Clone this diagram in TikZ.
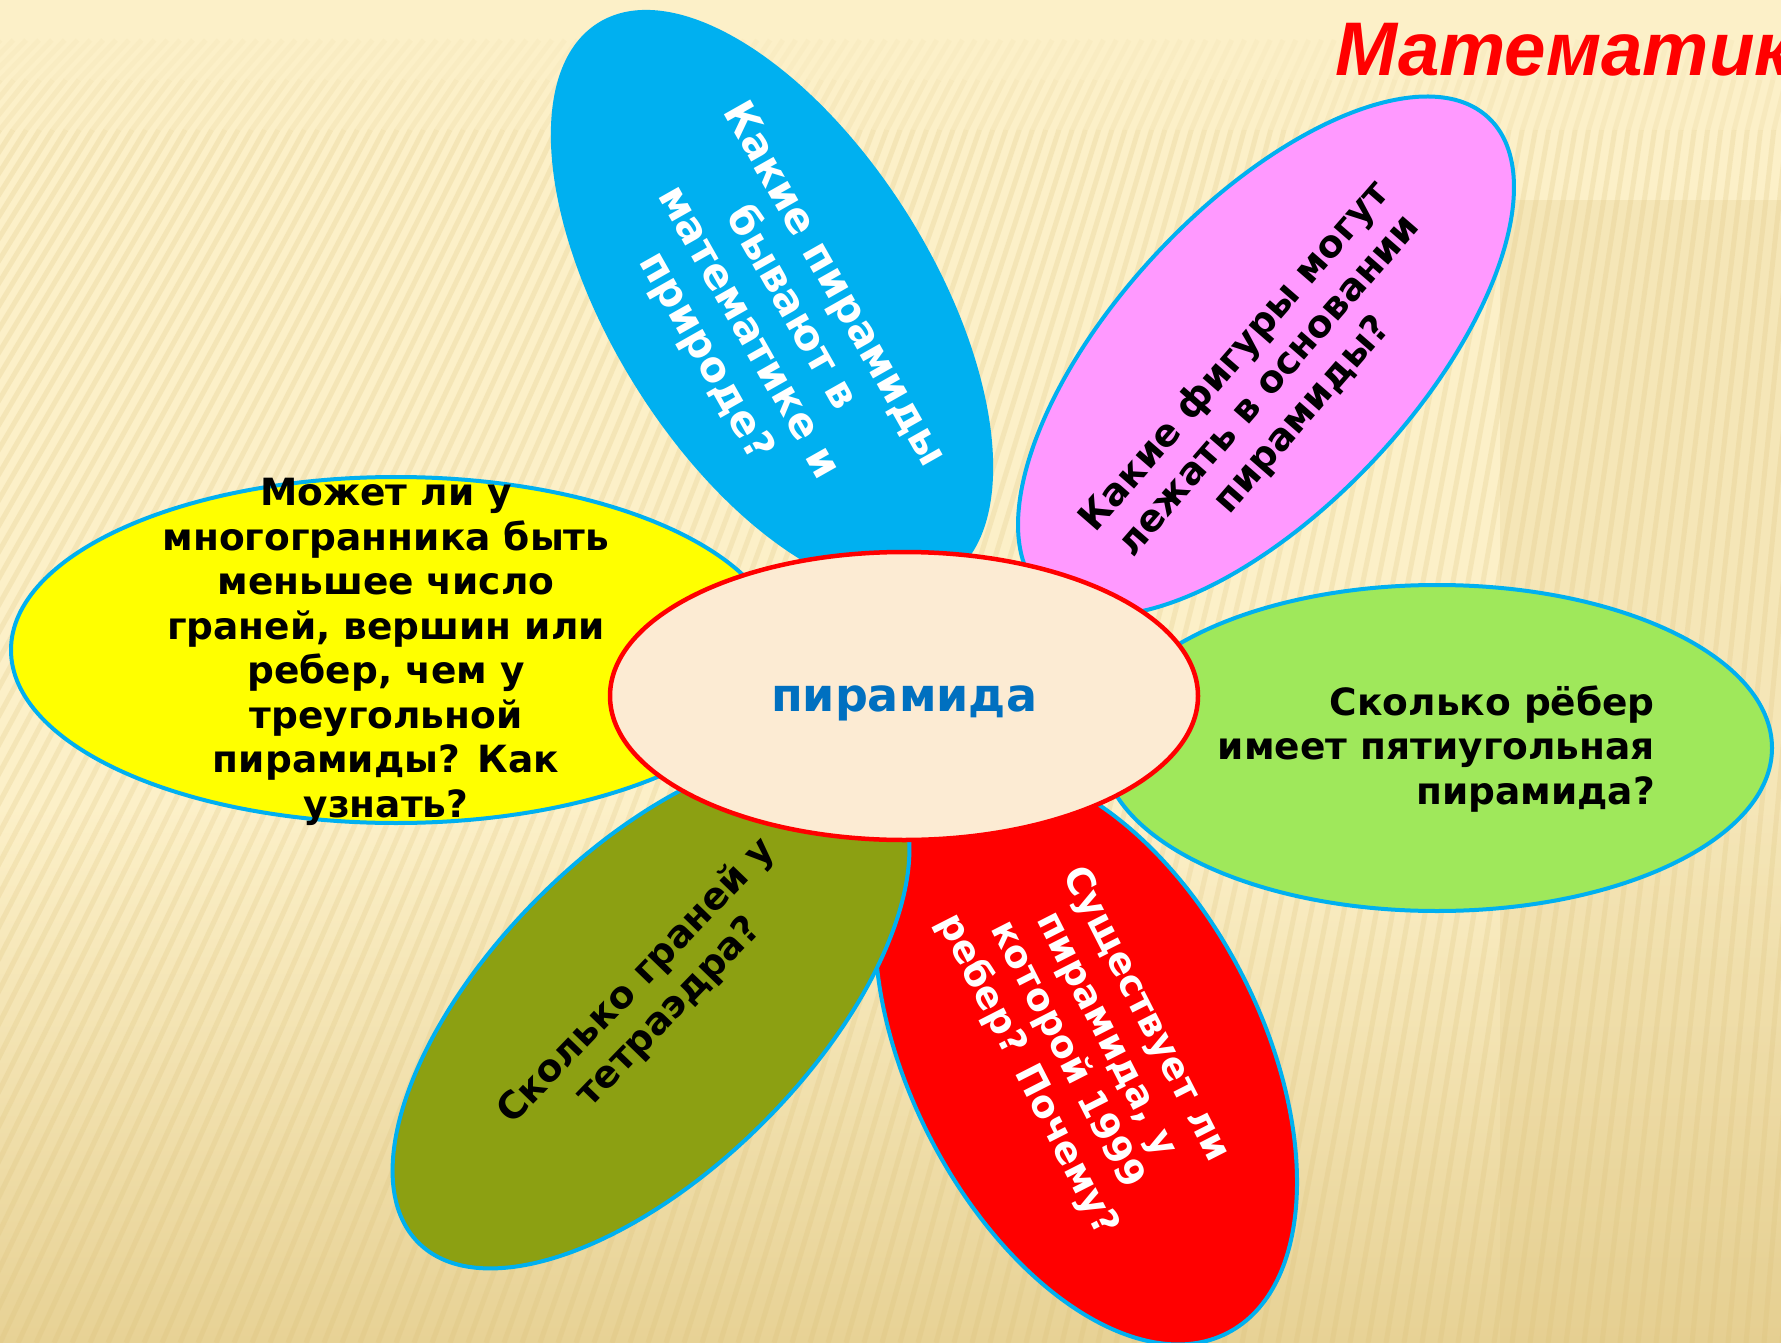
\documentclass[tikz,border=0pt]{standalone}
\usepackage{fontspec}
\usepackage{graphicx}
\setmainfont{DejaVu Sans}
\newfontfamily\titlefont{Liberation Sans}
\usetikzlibrary{shapes.geometric}
\definecolor{cream}{HTML}{FCF0C8}
\definecolor{tan}{HTML}{E2CA88}
\definecolor{stripe}{HTML}{D8BC72}
\definecolor{bord}{HTML}{00B0F0}
\definecolor{pblue}{HTML}{00B0F0}
\definecolor{ppink}{HTML}{FF99FF}
\definecolor{pgreen}{HTML}{9FE85B}
\definecolor{pred}{HTML}{FF0000}
\definecolor{polive}{HTML}{8CA012}
\definecolor{pyellow}{HTML}{FFFF00}
\definecolor{cfill}{HTML}{FCEBD3}
\definecolor{ctext}{HTML}{0070C0}
\pgfdeclareverticalshading{bgshade}{100bp}{color(0bp)=(tan); color(25bp)=(tan!80!cream); color(45bp)=(cream); color(100bp)=(cream)}
\tikzset{
  petal/.style={ellipse, draw=bord, line width=4pt, inner sep=0pt, outer sep=0pt},
  qtext/.style={font=\fontsize{37.5pt}{44.5pt}\selectfont\bfseries, align=center, inner sep=0pt},
  stripeline/.style={stripe, line width=5pt},
}
\begin{document}
\begin{tikzpicture}[x=1pt,y=-1pt]
\useasboundingbox (0,0) rectangle (1781,1343);
\clip (0,0) rectangle (1781,1343);
% background
\shade[shading=bgshade] (0,0) rectangle (1781,1343);
\fill[tan, opacity=0.25] (1500,200) rectangle (1781,1343);
\foreach \i in {-50,...,110} {
  \pgfmathsetmacro{\xb}{\i*18}
  \pgfmathsetmacro{\xa}{0.7125*\xb+629}
  \pgfmathsetmacro{\xm}{0.7240*\xb+600}
  \pgfmathsetmacro{\xn}{0.7355*\xb+569}
  \draw[stripeline, opacity=0.2] (\xb,1343) -- (\xn,130);
  \draw[stripeline, opacity=0.12] (\xn,130) -- (\xm,80);
  \draw[stripeline, opacity=0.06] (\xm,80) -- (\xa,40);
}
% petals
\node[petal, fill=pblue, draw=pblue, minimum width=652pt, minimum height=318pt, rotate=122] (blue) at (772,301) {};
\node[petal, fill=ppink, minimum width=652pt, minimum height=300pt, rotate=47] (pink) at (1266,356) {};
\node[petal, fill=pred, minimum width=622pt, minimum height=352pt, rotate=-63] (red) at (1086,1056) {};
\node[petal, fill=pgreen, minimum width=670pt, minimum height=326pt] (green) at (1437,748) {};
\node[petal, fill=polive, minimum width=658pt, minimum height=318pt, rotate=45] (olive) at (651,1010) {};
\node[petal, fill=pyellow, minimum width=770pt, minimum height=346pt] (yellow) at (396,650) {};
% centre
\node[ellipse, draw=pred, fill=cfill, line width=4.5pt, minimum width=588pt, minimum height=288pt, inner sep=0pt] (centre) at (904,696) {};
\node[font=\fontsize{46pt}{50pt}\selectfont\bfseries, text=ctext] (ctxt) at (904,703) {пирамида};
% texts
\node[qtext, font=\fontsize{41.5pt}{49pt}\selectfont\bfseries, text=white, rotate=-60.5] (tblue) at (769,321) {Какие пирамиды\\бывают в\\математике и\\природе?};
\node[qtext, rotate=49] (tpink) at (1269,386) {Какие фигуры могут\\лежать в основании\\пирамиды?};
\node[qtext, align=right, anchor=east] (tgreen) at (1655,749) {Сколько рёбер\\имеет пятиугольная\\пирамида?};
\node[qtext, text=white, rotate=-63] (tred) at (1086,1045) {Существует ли\\пирамида, у\\которой 1999\\ребер? Почему?};
\node[qtext, rotate=46] (tolive) at (653,997) {Сколько граней у\\тетраэдра?};
\node[qtext] (tyellow) at (386,652) {Может ли у\\многогранника быть\\меньшее число\\граней, вершин или\\ребер, чем у\\треугольной\\пирамиды? Как\\узнать?};
% title
\node[anchor=base west, inner sep=0pt, text=pred, font=\titlefont\fontsize{76pt}{80pt}\selectfont\bfseries\itshape] (title) at (1335,76) {\scalebox{0.98}[1]{Математик}};
\end{tikzpicture}
\end{document}
